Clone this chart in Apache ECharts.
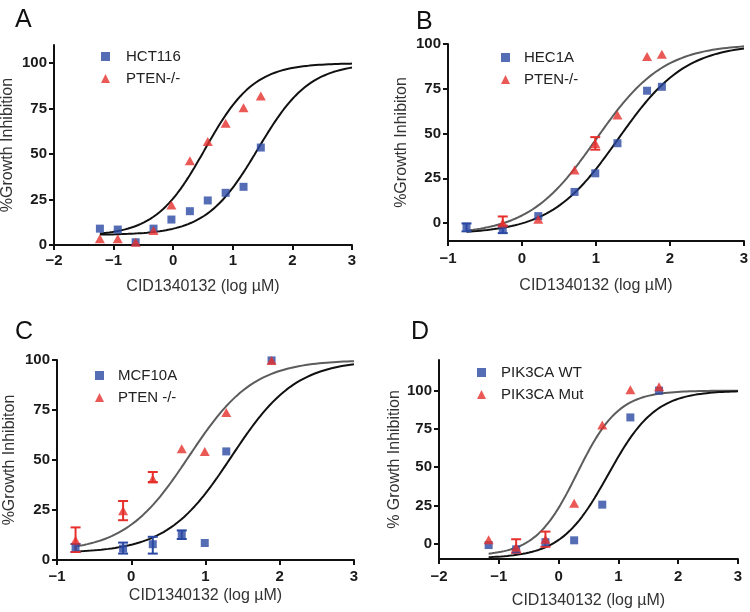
<!DOCTYPE html>
<html>
<head>
<meta charset="utf-8">
<script src="https://cdn.jsdelivr.net/npm/echarts@6/dist/echarts.min.js"></script>
<style>
  html, body { margin: 0; padding: 0; background: #fff; }
  #chart { width: 750px; height: 612px; }
</style>
</head>
<body>
<div id="chart"></div>
<script>
// ---------- Panel A ----------
const xA = [-1.23, -0.93, -0.63, -0.33, -0.03, 0.28, 0.58, 0.88, 1.18, 1.47];
const hct116 = [9, 8.5, 1.5, 9, 14, 18.6, 24.5, 28.7, 32, 53.6];
const ptenA = [3.5, 3.5, 1.5, 8, 22, 46.4, 56.9, 67, 75.5, 82];
// fitted 4PL parameters: [bottom, top, logEC50, hill, xStart, xEnd]
const fitA_HCT = [5.5, 100, 1.42, 1.0, -1.23, 3];
const fitA_PTEN = [5, 100, 0.53, 1.05, -1.23, 3];

// ---------- Panel B ----------
const xB = [-0.75, -0.26, 0.22, 0.71, 0.99, 1.29, 1.69, 1.89];
const hec1a = [-2, -3.7, 3.9, 17.4, 27.8, 44.6, 73.9, 76.1];
const ptenB = [null, 0, 2.2, 29.6, 44.5, 60.4, 93, 94.3];
const errB_HEC = [[-0.75, -4.6, -0.2], [-0.26, -5.6, -1.5]];
const errB_PTEN = [[-0.26, -1.5, 3.7], [0.99, 41, 48]];
const fitB_HEC = [-6, 100, 1.3, 0.95, -0.75, 3];
const fitB_PTEN = [-6.5, 100, 1.0, 0.95, -0.75, 3];

// ---------- Panel C ----------
const xC = [-0.75, -0.11, 0.29, 0.68, 0.99, 1.28, 1.89];
const mcf10a = [6.4, 5.7, 7.9, 12.7, 8.5, 54.3, 99.8];
const ptenC = [9.9, 24.6, 40.5, 55.6, 54.3, 73.7, 99.8];
const errC_MCF = [[-0.75, 4, 8], [-0.11, 3.2, 8.7], [0.29, 3.2, 11.6], [0.68, 10.5, 14.8]];
const errC_PTEN = [[-0.75, 4, 16.3], [-0.11, 19.9, 29.5], [0.29, 39, 44]];
const fitC_MCF = [3.5, 100, 1.35, 1.0, -0.73, 3];
const fitC_PTEN = [4, 100, 0.78, 1.0, -0.73, 3];

// ---------- Panel D ----------
const xD = [-1.17, -0.71, -0.22, 0.26, 0.73, 1.2, 1.68];
const pik3caWT = [-0.9, -3.7, 1, 2.2, 25.5, 82.5, 100];
const pik3caMut = [2.6, -2.4, 2.9, 26.4, 77.5, 100.6, 102.6];
const errD_Mut = [[-0.71, -6, 2.9], [-0.22, -2, 7.9]];
const fitD_WT = [-9.5, 100, 0.83, 1.1, -1.17, 3];
const fitD_Mut = [-8, 100, 0.31, 1.25, -1.17, 3];

// ---------- Tick labels ----------
const yTicks = [0, 25, 50, 75, 100];

const BLUE = '#2a49a3';
const RED = '#e5302c';
const BLACK = '#111111';
const GRAY = '#5c5c5c';

function zip(xs, ys) { return xs.map((x, i) => [x, ys[i]]); }
function curve(fit) {
  const [b, t, ec, h, x0, x1] = fit;
  const pts = [];
  const n = 160;
  for (let i = 0; i <= n; i++) {
    const x = x0 + (x1 - x0) * i / n;
    pts.push([x, b + (t - b) / (1 + Math.pow(10, (ec - x) * h))]);
  }
  return pts;
}
function errSeries(idx, data, color) {
  return {
    type: 'custom', xAxisIndex: idx, yAxisIndex: idx, z: 3,
    data: data, encode: { x: 0, y: [1, 2] },
    renderItem: function (params, api) {
      const x = api.value(0), lo = api.value(1), hi = api.value(2);
      const p1 = api.coord([x, lo]), p2 = api.coord([x, hi]);
      const w = 5;
      const st = { stroke: color, lineWidth: 2 };
      return {
        type: 'group', children: [
          { type: 'line', shape: { x1: p1[0], y1: p1[1], x2: p2[0], y2: p2[1] }, style: st },
          { type: 'line', shape: { x1: p1[0] - w, y1: p1[1], x2: p1[0] + w, y2: p1[1] }, style: st },
          { type: 'line', shape: { x1: p2[0] - w, y1: p2[1], x2: p2[0] + w, y2: p2[1] }, style: st }
        ]
      };
    }
  };
}
function sq(idx, name, xs, ys) {
  return { type: 'scatter', name: name, xAxisIndex: idx, yAxisIndex: idx, z: 4,
    symbol: 'rect', symbolSize: 8, itemStyle: { color: BLUE },
    data: zip(xs, ys).filter(p => p[1] != null) };
}
function tri(idx, name, xs, ys) {
  return { type: 'scatter', name: name, xAxisIndex: idx, yAxisIndex: idx, z: 5,
    symbol: 'triangle', symbolSize: [10, 9], itemStyle: { color: RED },
    data: zip(xs, ys).filter(p => p[1] != null) };
}
function line(idx, fit, color) {
  return { type: 'line', xAxisIndex: idx, yAxisIndex: idx, z: 2, showSymbol: false,
    symbol: 'none', smooth: false, silent: true,
    lineStyle: { color: color, width: 2 }, data: curve(fit) };
}

const FONT = '"Liberation Sans", Arial, Helvetica, sans-serif';
function xAxis(idx, min, max, titleGap, labelMargin) {
  return {
    type: 'value', gridIndex: idx, min: min, max: max, interval: 1,
    axisLine: { onZero: false, lineStyle: { color: BLACK, width: 2 } },
    axisTick: { length: 5, lineStyle: { color: BLACK, width: 2 } },
    splitLine: { show: false },
    axisLabel: { fontFamily: FONT, fontSize: 15, fontWeight: 'bold', color: '#1a1a1a', margin: labelMargin,
      formatter: v => String(v).replace('-', '\u2212') },
    name: 'CID1340132 (log \u00b5M)', nameLocation: 'middle', nameGap: titleGap,
    nameTextStyle: { fontFamily: FONT, fontSize: 16, color: '#333' }
  };
}
function yAxis(idx, min, max, title, titleGap) {
  return {
    type: 'value', gridIndex: idx, min: min, max: max,
    axisLine: { onZero: false, lineStyle: { color: BLACK, width: 2 } },
    axisTick: { length: 5, customValues: yTicks, lineStyle: { color: BLACK, width: 2 } },
    splitLine: { show: false },
    axisLabel: { fontFamily: FONT, fontSize: 15, fontWeight: 'bold', color: '#1a1a1a', margin: 7,
      customValues: yTicks },
    name: title, nameLocation: 'middle', nameGap: titleGap,
    nameTextStyle: { fontFamily: FONT, fontSize: 16, color: '#333' }
  };
}
function legend(names, left, top, gap) {
  return {
    orient: 'vertical', left: left, top: top, itemWidth: 9, itemHeight: 9, itemGap: 7,
    padding: 0, selectedMode: false,
    data: [{ name: names[0], icon: 'rect' }, { name: names[1], icon: 'triangle' }],
    textStyle: { fontFamily: FONT, fontSize: 15, color: '#222', padding: [0, 0, 0, gap] }
  };
}
const letterStyle = { fontFamily: FONT, fontSize: 25, fontWeight: 'normal', color: '#111' };

const option = {
  backgroundColor: '#fff',
  animation: false,
  title: [
    { text: 'A', left: 10, top: 3, textStyle: letterStyle },
    { text: 'B', left: 411, top: 5, textStyle: letterStyle },
    { text: 'C', left: 10, top: 315, textStyle: letterStyle },
    { text: 'D', left: 406, top: 315, textStyle: letterStyle }
  ],
  legend: [
    legend(['HCT116', 'PTEN-/-'], 101, 49, 11),
    legend(['HEC1A', 'PTEN-/-'], 501, 50, 9),
    legend(['MCF10A', 'PTEN -/-'], 95, 368, 9),
    legend(['PIK3CA WT', 'PIK3CA Mut'], 477, 365, 10)
  ],
  grid: [
    { left: 54, top: 45, width: 298, height: 200, outerBoundsMode: 'none' },
    { left: 448, top: 44, width: 296, height: 197, outerBoundsMode: 'none' },
    { left: 57, top: 360, width: 297, height: 200, outerBoundsMode: 'none' },
    { left: 439, top: 360, width: 299, height: 199, outerBoundsMode: 'none' }
  ],
  xAxis: [
    xAxis(0, -2, 3, 34, 8),
    xAxis(1, -1, 3, 37, 10),
    xAxis(2, -1, 3, 28, 9),
    xAxis(3, -2, 3, 34, 10)
  ],
  yAxis: [
    yAxis(0, 0, 110, '%Growth Inhibition', 38),
    yAxis(1, -10, 100, '%Growth Inhibiton', 38),
    yAxis(2, 0, 100, '%Growth Inhibiton', 39),
    yAxis(3, -10, 120, '% Growth Inhibition', 36)
  ],
  series: [
    line(0, fitA_PTEN, BLACK), line(0, fitA_HCT, BLACK),
    sq(0, 'HCT116', xA, hct116), tri(0, 'PTEN-/-', xA, ptenA),

    line(1, fitB_PTEN, GRAY), line(1, fitB_HEC, BLACK),
    errSeries(1, errB_HEC, BLUE), errSeries(1, errB_PTEN, RED),
    sq(1, 'HEC1A', xB, hec1a), tri(1, 'PTEN-/-', xB, ptenB),

    line(2, fitC_PTEN, GRAY), line(2, fitC_MCF, BLACK),
    errSeries(2, errC_MCF, BLUE), errSeries(2, errC_PTEN, RED),
    sq(2, 'MCF10A', xC, mcf10a), tri(2, 'PTEN -/-', xC, ptenC),

    line(3, fitD_Mut, GRAY), line(3, fitD_WT, BLACK),
    errSeries(3, errD_Mut, RED),
    sq(3, 'PIK3CA WT', xD, pik3caWT), tri(3, 'PIK3CA Mut', xD, pik3caMut)
  ]
};
const chart = echarts.init(document.getElementById('chart'), null, { renderer: 'canvas' });
chart.setOption(option);
</script>
</body>
</html>
